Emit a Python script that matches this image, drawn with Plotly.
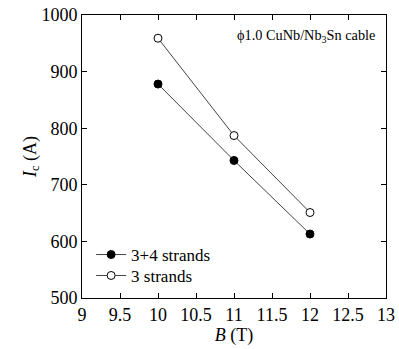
import plotly.graph_objects as go

B = [10, 11, 12]
ic_34 = [878, 743, 613]
ic_3 = [959, 787, 651]
names = ["3+4 strands", "3 strands"]

FONT = "Liberation Serif"
fig = go.Figure()
fig.add_trace(go.Scatter(x=B, y=ic_34, name=names[0], mode="lines+markers", legend="legend",
                         showlegend=True,
                         line=dict(color="#444444", width=1),
                         marker=dict(symbol="circle", size=8, color="black",
                                     line=dict(color="black", width=1))))
fig.add_trace(go.Scatter(x=B, y=ic_3, name=names[1], mode="lines+markers", legend="legend2",
                         showlegend=True,
                         line=dict(color="#444444", width=1),
                         marker=dict(symbol="circle", size=8, color="white",
                                     line=dict(color="black", width=1))))

axis_common = dict(showline=True, linecolor="black", linewidth=1, mirror="ticks",
                   ticks="inside", ticklen=5, tickcolor="black", showgrid=False,
                   zeroline=False, automargin=False,
                   tickfont=dict(family=FONT, size=18, color="black"))
fig.update_xaxes(range=[9, 13], dtick=0.5, **axis_common,
                 title=dict(text="<i>B</i> (T)", font=dict(family=FONT, size=18, color="black"), standoff=0))
fig.update_yaxes(range=[500, 1000], dtick=100, **axis_common,
                 title=dict(text="<i>I</i><sub>c</sub> (A)", font=dict(family=FONT, size=18, color="black"), standoff=0))

fig.add_annotation(text="ϕ1.0 CuNb/Nb<sub>3</sub>Sn cable", xref="paper", yref="paper",
                   x=0.97, y=0.925, xanchor="right", yanchor="middle", showarrow=False,
                   font=dict(family=FONT, size=14.3, color="black"))

leg = dict(x=0.03, xanchor="left", yanchor="middle", bgcolor="rgba(0,0,0,0)",
           font=dict(family=FONT, size=17, color="black"), itemwidth=30)
fig.update_layout(width=399, height=349, margin=dict(l=82, r=13, t=15, b=51),
                  font=dict(family=FONT, size=17, color="black"), showlegend=True,
                  plot_bgcolor="white", paper_bgcolor="white",
                  legend=dict(y=0.152, **leg),
                  legend2=dict(y=0.078, **leg))
fig.write_html("out.html", config={"displayModeBar": False},
               post_script="document.body.style.margin='0';document.body.style.overflow='hidden';")
